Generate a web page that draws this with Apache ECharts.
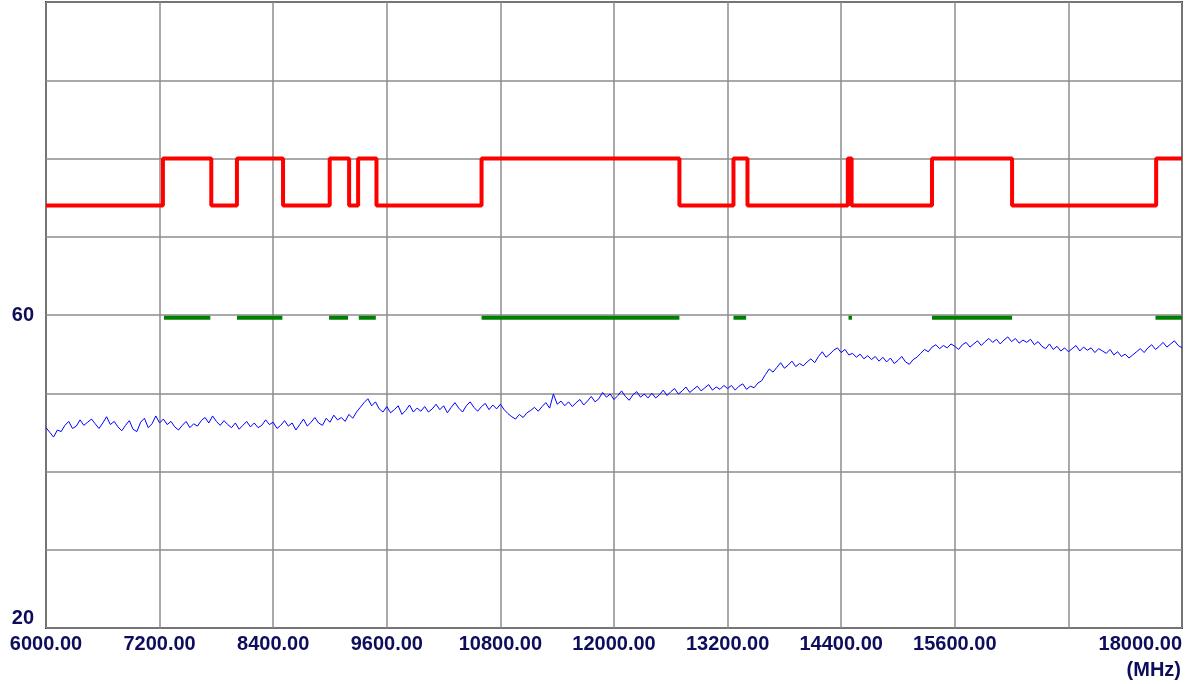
<!DOCTYPE html>
<html>
<head>
<meta charset="utf-8">
<script src="https://cdn.jsdelivr.net/npm/echarts@6/dist/echarts.min.js"></script>
<style>
html,body{margin:0;padding:0;background:#fff;}
#c{width:1192px;height:684px;}
</style>
</head>
<body>
<div id="c"></div>
<script>
// X axis (MHz)
const freqStart = 6000;
const freqEnd = 18000;
const freqStep = 40; // spacing of the blue trace samples
const xTickLabels = ['6000.00','7200.00','8400.00','9600.00','10800.00','12000.00','13200.00','14400.00','15600.00','','18000.00'];
const yTickLabels = {20: '20', 60: '60'};

// Red limit line: starts low, toggles level at each edge frequency
const redLow = 74;
const redHigh = 80;
const redEdges = [7235, 7746, 8017, 8504, 8997, 9202, 9297, 9491, 10601, 12691, 13262, 13410, 14470, 14510, 15359, 16205, 17727];

// Green marker segments (start, end) at level
const greenLevel = 59.65;
const greenSegments = [[7246,7736],[8017,8497],[8990,9191],[9304,9484],[10601,12691],[13262,13396],[14477,14514],[15359,16205],[17720,18000]];

// Blue trace values, one every 40 MHz from 6000 to 18000
const blueValues = [
45.6,45.0,44.4,45.3,45.1,45.9,46.4,45.5,45.8,46.6,45.9,46.3,46.7,46.1,45.5,46.2,47.0,46.0,46.4,45.7,
45.2,45.9,46.5,45.4,45.1,46.3,46.8,45.6,46.1,47.1,46.2,46.7,46.0,46.4,45.7,45.3,45.9,46.4,45.6,46.1,
45.8,46.5,46.9,46.2,47.1,46.4,45.9,46.5,46.0,45.6,46.2,45.4,45.9,46.4,45.7,46.2,45.6,45.9,46.6,46.0,
46.3,45.5,45.9,46.5,45.8,46.2,45.3,46.0,46.7,45.8,46.3,46.9,46.2,45.9,46.8,46.3,47.2,46.6,46.9,46.4,
47.3,46.8,47.6,48.2,48.8,49.3,48.4,48.9,48.0,47.6,48.3,47.5,47.9,48.4,47.3,47.8,48.5,47.6,48.1,47.7,
48.3,47.6,48.0,48.6,47.9,48.4,47.5,48.2,48.8,48.1,47.6,48.4,48.9,48.2,47.7,48.3,48.7,47.9,48.5,48.0,
48.6,47.9,47.4,47.0,46.7,47.3,46.9,47.5,47.8,48.2,47.7,48.3,48.8,48.1,49.9,48.6,49.0,48.4,48.9,48.3,
48.8,49.2,48.5,49.0,49.6,48.9,49.3,50.1,49.5,49.9,49.2,49.7,50.3,49.6,49.1,49.8,50.2,49.5,49.9,49.4,
50.0,49.4,49.8,50.4,49.7,50.2,50.6,49.9,50.3,50.8,50.1,50.5,50.9,50.3,50.7,51.1,50.4,50.8,50.5,51.0,
50.6,51.0,50.4,50.9,51.2,50.5,50.9,50.7,51.3,51.6,52.4,53.1,52.7,53.3,53.9,53.2,53.6,54.1,53.4,53.8,
53.5,54.0,54.4,53.9,54.7,55.3,54.6,55.0,55.5,55.8,55.2,55.6,54.9,55.1,54.6,55.0,54.4,54.8,54.3,54.7,
54.1,54.6,54.0,54.5,53.8,54.2,54.7,54.0,53.7,54.3,54.6,55.1,55.6,55.3,55.9,56.2,55.7,56.1,55.8,56.3,
56.0,55.6,56.2,56.5,55.9,56.3,56.7,56.1,56.6,57.0,56.5,56.9,56.3,56.8,57.2,56.6,57.0,56.4,56.8,56.5,
56.9,56.2,56.6,56.0,55.7,56.3,55.6,56.0,55.4,55.8,55.3,55.7,56.1,55.4,55.9,55.5,55.8,55.2,55.7,55.4,
55.1,55.6,54.9,55.3,54.7,55.0,54.5,54.9,55.3,55.7,55.2,55.8,56.2,55.6,56.0,56.5,55.9,56.3,56.7,56.1,
55.8
];

// ---- build series data ----
const blueData = blueValues.map((v, i) => [freqStart + i * freqStep, v]);

const redData = [[freqStart, redLow]];
let level = redLow;
redEdges.forEach(e => { level = (level === redLow) ? redHigh : redLow; redData.push([e, level]); });
redData.push([freqEnd, level]);

const labelColor = '#0d0d5c';
const fontFam = '"Liberation Sans", Arial, sans-serif';

const series = [
  {
    type: 'line', data: blueData, symbol: 'none', z: 3,
    lineStyle: {color: '#0000ff', width: 1}
  },
  {
    type: 'line', data: redData, step: 'end', symbol: 'none', z: 4,
    lineStyle: {color: '#ff0000', width: 4}
  }
];
greenSegments.forEach(s => {
  series.push({
    type: 'line', data: [[s[0], greenLevel], [s[1], greenLevel]], symbol: 'none', z: 4,
    lineStyle: {color: '#008000', width: 4}
  });
});

const chart = echarts.init(document.getElementById('c'));
chart.setOption({
  animation: false,
  backgroundColor: '#ffffff',
  grid: {left: 46, right: 10, top: 2, bottom: 56, show: true, borderColor: '#333', borderWidth: 2, backgroundColor: 'transparent'},
  xAxis: {
    type: 'value', min: freqStart, max: freqEnd, interval: 1200,
    axisLine: {show: false}, axisTick: {show: false},
    splitLine: {show: true, lineStyle: {color: '#8c8c8c', width: 1.5}},
    axisLabel: {
      margin: 6, color: labelColor, fontFamily: fontFam, fontWeight: 'bold', fontSize: 20,
      alignMaxLabel: 'right', showMinLabel: true, showMaxLabel: true,
      formatter: v => xTickLabels[Math.round((v - freqStart) / 1200)]
    }
  },
  yAxis: {
    type: 'value', min: 20, max: 100, interval: 10,
    axisLine: {show: false}, axisTick: {show: false},
    splitLine: {show: true, lineStyle: {color: '#8c8c8c', width: 1.5}},
    axisLabel: {
      margin: 12, color: labelColor, fontFamily: fontFam, fontWeight: 'bold', fontSize: 20,
      verticalAlignMinLabel: 'bottom', showMinLabel: true,
      formatter: v => yTickLabels[v] || ''
    }
  },
  graphic: [{
    type: 'text', x: 1181, y: 670,
    style: {text: '(MHz)', fill: labelColor, font: 'bold 20px "Liberation Sans", Arial, sans-serif', textAlign: 'right', textVerticalAlign: 'middle'}
  }],
  series: series
});
</script>
</body>
</html>
